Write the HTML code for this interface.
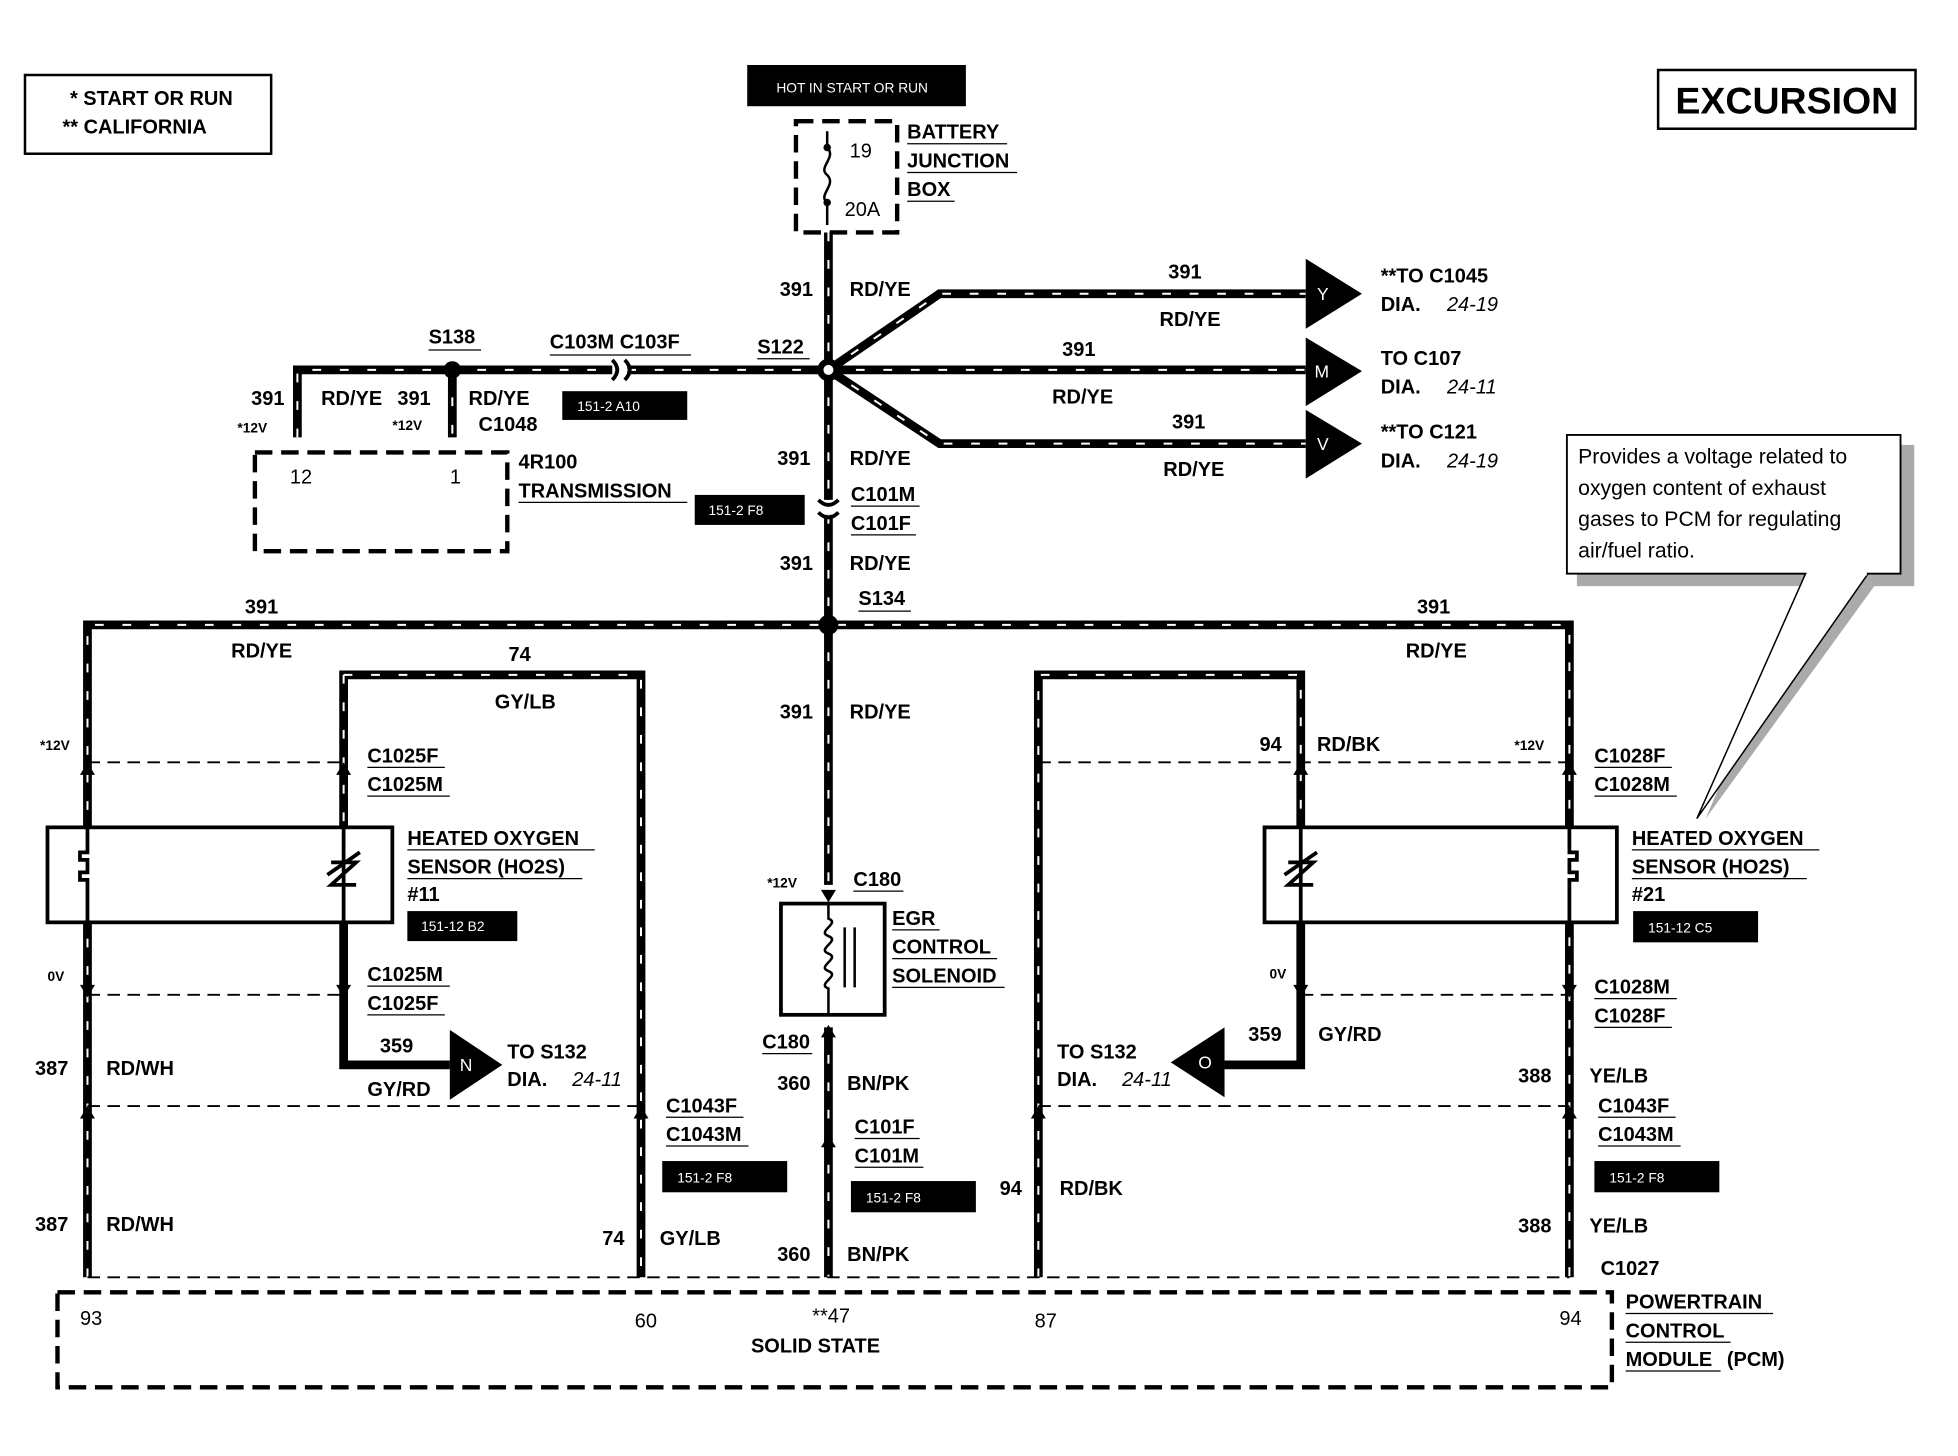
<!DOCTYPE html>
<html><head><meta charset="utf-8"><style>
html,body{margin:0;padding:0;background:#fff}
svg{display:block}
text{font-family:"Liberation Sans",Arial,sans-serif;font-weight:bold;font-size:16px;fill:#000}
.w{stroke:#000;stroke-width:7;fill:none}
.d{stroke:#fff;stroke-width:1.6;fill:none;stroke-dasharray:7 15}
.ds{stroke:#000;stroke-width:1.5;fill:none;stroke-dasharray:10 6}
.db{stroke:#000;stroke-width:3.5;fill:none;stroke-dasharray:14 7}
.s{font-size:11px}
.bx{fill:#000}
.wt{fill:#fff;font-size:11px;font-weight:normal}
.n{font-weight:normal}
.i{font-style:italic;font-weight:normal}
.al{fill:#fff;font-weight:normal;font-size:14px}
</style></head><body>
<svg width="1958" height="1456" viewBox="0 0 1567 1165" preserveAspectRatio="none" xmlns="http://www.w3.org/2000/svg">
<rect x="20" y="60" width="197" height="63" fill="none" stroke="#000" stroke-width="2"/>
<text x="56" y="84">* START OR RUN</text>
<text x="50" y="107">** CALIFORNIA</text>
<rect x="1327" y="56" width="206" height="47" fill="none" stroke="#000" stroke-width="2"/>
<text x="1430" y="91" text-anchor="middle" style="font-size:30px">EXCURSION</text>
<rect x="598" y="52" width="175" height="33" class="bx"/>
<text x="682" y="74" class="wt" text-anchor="middle">HOT IN START OR RUN</text>
<rect x="637" y="97" width="81" height="89" class="db"/>
<path d="M662 105 V118 M662 162 V180" stroke="#000" stroke-width="2"/>
<path d="M662 118 c8 8 -8 16 0 22 c8 8 -8 16 0 22" stroke="#000" stroke-width="2" fill="none"/>
<circle cx="662" cy="118" r="3"/><circle cx="662" cy="162" r="3"/>
<text x="680" y="126" class="n">19</text><text x="676" y="173" class="n">20A</text>
<text x="726" y="111">BATTERY</text><text x="726" y="134">JUNCTION</text><text x="726" y="157">BOX</text>
<path d="M726 115h80M726 138h88M726 161h38" stroke="#000" stroke-width="1"/>

<g class="w">
<path d="M663 186 V400 M663 412 V708 M663 822 V1022"/>
<path d="M663 296 L752 235 H1045 M663 296 H1045 M663 296 L752 355 H1045"/>
<path d="M238 350 V296 H490 M502 296 H663 M362 296 V350"/>
<path d="M70 1022 V500 H1256 V1022"/>
<path d="M275 738 V540 H513 V1022 M275 738 V852 H360"/>
<path d="M831 1022 V540 H1041 V852 H980"/>
</g>
<g class="d">
<path d="M663 186 V400 M663 412 V708 M663 822 V1022"/>
<path d="M663 296 L752 235 H1045 M663 296 H1045 M663 296 L752 355 H1045"/>
<path d="M238 350 V296 H490 M502 296 H663 M362 296 V350"/>
<path d="M70 1022 V500 H1256 V1022"/>
<path d="M275 540 H513 V1022 M275 540 V662"/>
<path d="M831 1022 V540 H1041 V662"/>
</g>
<circle cx="663" cy="296" r="9" fill="#000"/><circle cx="663" cy="296" r="4" fill="#fff"/>
<circle cx="362" cy="296" r="7" fill="#000"/>
<circle cx="663" cy="500" r="8" fill="#000"/>
<path d="M490 288 q8 8 0 16 M500 288 q8 8 0 16" stroke="#000" stroke-width="3" fill="none"/>
<polygon points="1045,207 1090,235 1045,263" fill="#000"/><text x="1054" y="240" class="al">Y</text>
<polygon points="1045,270 1090,297 1045,325" fill="#000"/><text x="1052" y="302" class="al">M</text>
<polygon points="1045,328 1090,355 1045,383" fill="#000"/><text x="1054" y="360" class="al">V</text>
<polygon points="360,824 402,852 360,880" fill="#000"/><text x="368" y="857" class="al">N</text>
<polygon points="980,822 937,850 980,878" fill="#000"/><text x="959" y="855" class="al">O</text>

<rect x="204" y="362" width="202" height="79" class="db"/>
<text x="232" y="387" class="n">12</text><text x="360" y="387" class="n">1</text>
<text x="415" y="375">4R100</text><text x="415" y="398">TRANSMISSION</text>
<path d="M415 402h135" stroke="#000"/>
<text x="201" y="324">391</text><text x="257" y="324">RD/YE</text><text x="318" y="324">391</text><text x="375" y="324">RD/YE</text>
<text x="190" y="346" class="s">*12V</text><text x="314" y="344" class="s">*12V</text>
<text x="383" y="345">C1048</text>
<text x="343" y="275">S138</text><path d="M343 280h42" stroke="#000"/>
<text x="440" y="279">C103M C103F</text><path d="M440 284h113" stroke="#000"/>
<text x="606" y="283">S122</text><path d="M606 287h42" stroke="#000"/>
<rect x="450" y="313" width="100" height="23" class="bx"/><text x="462" y="329" class="wt">151-2 A10</text>
<text x="624" y="237">391</text><text x="680" y="237">RD/YE</text>
<text x="935" y="223">391</text><text x="928" y="261">RD/YE</text>
<text x="850" y="285">391</text><text x="842" y="323">RD/YE</text>
<text x="938" y="343">391</text><text x="931" y="381">RD/YE</text>
<text x="1105" y="226">**TO C1045</text><text x="1105" y="249">DIA.</text><text x="1158" y="249" class="i">24-19</text>
<text x="1105" y="292">TO C107</text><text x="1105" y="315">DIA.</text><text x="1158" y="315" class="i">24-11</text>
<text x="1105" y="351">**TO C121</text><text x="1105" y="374">DIA.</text><text x="1158" y="374" class="i">24-19</text>
<text x="622" y="372">391</text><text x="680" y="372">RD/YE</text>
<text x="681" y="401">C101M</text><text x="681" y="424">C101F</text><path d="M681 405h55M681 428h52" stroke="#000"/>
<path d="M655 400 q8 8 16 0 M655 410 q8 8 16 0" stroke="#000" stroke-width="3" fill="none"/>
<rect x="556" y="396" width="88" height="24" class="bx"/><text x="567" y="412" class="wt">151-2 F8</text>
<text x="624" y="456">391</text><text x="680" y="456">RD/YE</text>
<text x="687" y="484">S134</text><path d="M687 489h42" stroke="#000"/>
<text x="196" y="491">391</text><text x="185" y="526">RD/YE</text>
<text x="1134" y="491">391</text><text x="1125" y="526">RD/YE</text>
<text x="407" y="529">74</text><text x="396" y="567">GY/LB</text>
<text x="624" y="575">391</text><text x="680" y="575">RD/YE</text>

<text x="32" y="600" class="s">*12V</text>
<path d="M70 610 H275 M831 610 H1256 M70 796 H275 M1041 796 H1256 M70 885 H513 M831 885 H1256 M70 1022 H1256" class="ds"/>
<g fill="#000"><polygon points="64,620 70,610 76,620"/><polygon points="269,620 275,610 281,620"/>
<polygon points="1035,620 1041,610 1047,620"/><polygon points="1250,620 1256,610 1262,620"/>
<polygon points="64,788 70,798 76,788"/><polygon points="269,788 275,798 281,788"/>
<polygon points="1035,788 1041,798 1047,788"/><polygon points="1250,788 1256,798 1262,788"/>
<polygon points="64,895 70,885 76,895"/><polygon points="507,895 513,885 519,895"/>
<polygon points="825,895 831,885 837,895"/><polygon points="1250,895 1256,885 1262,895"/>
<polygon points="657,712 663,722 669,712"/><polygon points="657,830 663,820 669,830"/>
<polygon points="657,918 663,908 669,918"/></g>
<text x="294" y="610">C1025F</text><text x="294" y="633">C1025M</text><path d="M294 614h62M294 637h66" stroke="#000"/>
<rect x="38" y="662" width="276" height="76" fill="#fff" stroke="#000" stroke-width="3"/>
<path d="M70 662 v20 h-6 v6 h6 v10 h-6 v6 h6 v34 M275 662v76 M262 700l26 -18 M265 690 h20 l-20 18 h20" stroke="#000" stroke-width="3" fill="none"/>
<text x="326" y="676">HEATED OXYGEN</text><text x="326" y="699">SENSOR (HO2S)</text><text x="326" y="721">#11</text>
<path d="M326 680h150M326 703h140" stroke="#000"/>
<rect x="326" y="729" width="88" height="24" class="bx"/><text x="337" y="745" class="wt">151-12 B2</text>
<text x="38" y="785" class="s">0V</text>
<text x="294" y="785">C1025M</text><text x="294" y="808">C1025F</text><path d="M294 789h66M294 812h62" stroke="#000"/>
<text x="304" y="842">359</text><text x="294" y="877">GY/RD</text>
<text x="406" y="847">TO S132</text><text x="406" y="869">DIA.</text><text x="458" y="869" class="i">24-11</text>
<text x="28" y="860">387</text><text x="85" y="860">RD/WH</text>
<text x="28" y="985">387</text><text x="85" y="985">RD/WH</text>
<text x="533" y="890">C1043F</text><text x="533" y="913">C1043M</text><path d="M533 894h62M533 917h66" stroke="#000"/>
<rect x="530" y="929" width="100" height="25" class="bx"/><text x="542" y="946" class="wt">151-2 F8</text>
<text x="482" y="996">74</text><text x="528" y="996">GY/LB</text>

<text x="614" y="710" class="s">*12V</text>
<text x="683" y="709">C180</text><path d="M683 713h40" stroke="#000"/>
<rect x="625" y="723" width="83" height="89" fill="#fff" stroke="#000" stroke-width="3"/>
<path d="M663 723 v12 c10 4 -10 10 0 14 c10 4 -10 10 0 14 c10 4 -10 10 0 14 c10 4 -10 10 0 14 v21 M676 742v48 M684 742v48" stroke="#000" stroke-width="2" fill="none"/>
<text x="714" y="740">EGR</text><text x="714" y="763">CONTROL</text><text x="714" y="786">SOLENOID</text>
<path d="M714 744h38M714 767h84M714 790h90" stroke="#000"/>
<text x="610" y="839">C180</text><path d="M610 843h40" stroke="#000"/>
<text x="622" y="872">360</text><text x="678" y="872">BN/PK</text>
<text x="684" y="907">C101F</text><text x="684" y="930">C101M</text><path d="M684 911h52M684 934h55" stroke="#000"/>
<rect x="681" y="945" width="100" height="25" class="bx"/><text x="693" y="962" class="wt">151-2 F8</text>
<text x="622" y="1009">360</text><text x="678" y="1009">BN/PK</text>

<text x="1008" y="601">94</text><text x="1054" y="601">RD/BK</text>
<text x="1212" y="600" class="s">*12V</text>
<text x="1276" y="610">C1028F</text><text x="1276" y="633">C1028M</text><path d="M1276 614h62M1276 637h66" stroke="#000"/>
<rect x="1012" y="662" width="282" height="76" fill="#fff" stroke="#000" stroke-width="3"/>
<path d="M1256 662 v20 h6 v6 h-6 v10 h6 v6 h-6 v34 M1041 662v76 M1028 700l26 -18 M1031 690 h20 l-20 18 h20" stroke="#000" stroke-width="3" fill="none"/>
<text x="1306" y="676">HEATED OXYGEN</text><text x="1306" y="699">SENSOR (HO2S)</text><text x="1306" y="721">#21</text>
<path d="M1306 680h150M1306 703h140" stroke="#000"/>
<rect x="1307" y="729" width="100" height="25" class="bx"/><text x="1319" y="746" class="wt">151-12 C5</text>
<text x="1016" y="783" class="s">0V</text>
<text x="1276" y="795">C1028M</text><text x="1276" y="818">C1028F</text><path d="M1276 799h66M1276 822h62" stroke="#000"/>
<text x="999" y="833">359</text><text x="1055" y="833">GY/RD</text>
<text x="846" y="847">TO S132</text><text x="846" y="869">DIA.</text><text x="898" y="869" class="i">24-11</text>
<text x="1215" y="866">388</text><text x="1272" y="866">YE/LB</text>
<text x="1279" y="890">C1043F</text><text x="1279" y="913">C1043M</text><path d="M1279 894h62M1279 917h66" stroke="#000"/>
<rect x="1276" y="929" width="100" height="25" class="bx"/><text x="1288" y="946" class="wt">151-2 F8</text>
<text x="800" y="956">94</text><text x="848" y="956">RD/BK</text>
<text x="1215" y="986">388</text><text x="1272" y="986">YE/LB</text>
<text x="1281" y="1020">C1027</text>

<rect x="46" y="1034" width="1244" height="76" class="db"/>
<text x="64" y="1060" class="n">93</text><text x="508" y="1062" class="n">60</text>
<text x="650" y="1058" class="n">**47</text><text x="828" y="1062" class="n">87</text><text x="1248" y="1060" class="n">94</text>
<text x="601" y="1082">SOLID STATE</text>
<text x="1301" y="1047">POWERTRAIN</text><text x="1301" y="1070">CONTROL</text><text x="1301" y="1093">MODULE</text><text x="1382" y="1093">(PCM)</text>
<path d="M1301 1051h118M1301 1074h84M1301 1097h76" stroke="#000"/>

<rect x="1262" y="356" width="270" height="113" fill="#aaa"/>
<polygon points="1445,469 1500,469 1365,655" fill="#aaa"/>
<rect x="1254" y="348" width="267" height="111" fill="#fff" stroke="#000" stroke-width="1.5"/>
<path d="M1445 459 L1358 655 L1495 459" stroke="#000" stroke-width="1.2" fill="#fff"/>
<path d="M1446 459 H1494" stroke="#fff" stroke-width="3"/>
<text x="1263" y="371" class="n" style="font-size:17px">Provides a voltage related to</text>
<text x="1263" y="396" class="n" style="font-size:17px">oxygen content of exhaust</text>
<text x="1263" y="421" class="n" style="font-size:17px">gases to PCM for regulating</text>
<text x="1263" y="446" class="n" style="font-size:17px">air/fuel ratio.</text>
</svg>
</body></html>
